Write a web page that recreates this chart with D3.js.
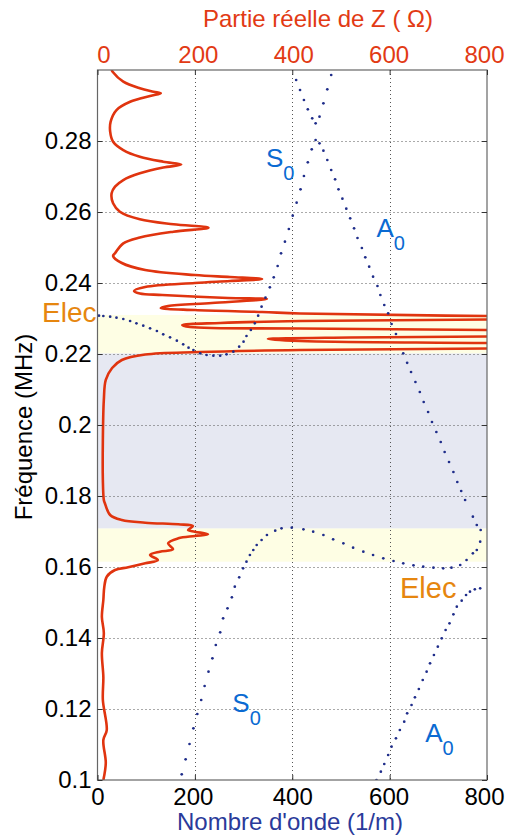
<!DOCTYPE html>
<html><head><meta charset="utf-8">
<script src="https://cdn.jsdelivr.net/npm/d3@7"></script>
<style>
body{margin:0;background:#fff}
svg{display:block}
text{font-family:"Liberation Sans",Arial,Helvetica,sans-serif}
</style>
</head><body>
<svg id="c" width="507" height="839"></svg>
<script>
// ---------- data ----------
const kTicks = [0, 200, 400, 600, 800];
const kTickLabels = ["0", "200", "400", "600", "800"];
const zTicks = [0, 200, 400, 600, 800];
const zTickLabels = ["0", "200", "400", "600", "800"];
const fTicks = [0.1, 0.12, 0.14, 0.16, 0.18, 0.2, 0.22, 0.24, 0.26, 0.28];
const fTickLabels = ["0.1", "0.12", "0.14", "0.16", "0.18", "0.2", "0.22", "0.24", "0.26", "0.28"];

const bandStart = [0.1615, 0.1709, 0.2202];
const bandEnd   = [0.1709, 0.2202, 0.2310];
const bandKind  = ["elec", "gap", "elec"];

// Real part of Z (ohm) vs frequency (MHz)
const redZ = [29,31,53,87,115,130,108,67,39,27,26,32,53,87,135,172,135,87,53,36,29,32,46,87,156,228,156,87,53,36,32,50,98,200,272,338,272,200,98,75,87,133,268,348,235,145,130,200,338,416,800,1400,800,416,252,174,190,416,800,1400,800,519,350,416,800,1400,800,416,210,98,50,30,17,13,11,11,13,15,26,50,98,166,196,186,200,227,200,166,145,155,128,108,124,98,63,36,19,14,12,9,13,9,12,11,19,12,17,12];
const redF = [0.3,0.29952,0.29670,0.29484,0.29389,0.29343,0.29268,0.29107,0.28873,0.28544,0.28262,0.27980,0.27746,0.27558,0.27417,0.27338,0.27253,0.27090,0.26901,0.26713,0.26526,0.26244,0.26009,0.25794,0.25653,0.25558,0.25445,0.25282,0.25118,0.24837,0.24761,0.24563,0.24366,0.24225,0.24169,0.24113,0.24056,0.24,0.23887,0.23775,0.23704,0.23662,0.23577,0.23549,0.23437,0.23352,0.23296,0.23239,0.23183,0.23141,0.23070,0.2302,0.22972,0.22930,0.22873,0.22817,0.22761,0.22718,0.22676,0.2258,0.22493,0.22465,0.22423,0.22366,0.2231,0.2223,0.22155,0.22113,0.22056,0.21986,0.21831,0.21606,0.21268,0.20704,0.19577,0.18451,0.17887,0.17803,0.17465,0.17324,0.17248,0.17203,0.17155,0.17042,0.16995,0.16921,0.16873,0.16808,0.16667,0.16498,0.16431,0.16338,0.16197,0.16103,0.15991,0.15915,0.15727,0.15445,0.15070,0.14592,0.14141,0.13577,0.12901,0.12254,0.11408,0.11127,0.10479,0.1];

// Dispersion dots: S0 upper branch (wavenumber 1/m, frequency MHz)
const s0UpK = [3,12,26,39,53,67,80,94,108,122,135,149,163,176,187,197,211,224,238,252,265,279,291,300,306,315,323,330,337,345,354,362,370,377,385,393,401,409,417,424,432,440,448,456,464,472,480];
const s0UpF = [0.23079,0.23070,0.23051,0.23023,0.22986,0.22930,0.22864,0.22797,0.22723,0.22648,0.22554,0.22470,0.22375,0.22273,0.22178,0.22113,0.22020,0.21972,0.21952,0.21952,0.21992,0.22065,0.22206,0.22347,0.22507,0.22676,0.22864,0.23079,0.23333,0.23586,0.23878,0.24161,0.24479,0.24836,0.25164,0.25521,0.25896,0.26262,0.26639,0.27014,0.27400,0.27766,0.28028,0.28685,0.29061,0.29456,0.29859];

// A0 upper branch -> coupling loop -> S0 lower branch
const a0s0K = [408,416,424,432,441,448,456,464,472,480,488,495,503,511,519,527,534,543,550,558,566,575,581,589,597,604,613,628,636,644,653,662,670,679,687,696,705,713,722,731,739,747,755,771,779,787,786,779,771,758,745,727,710,690,669,649,628,608,587,566,546,525,505,484,464,443,423,399,378,365,348,337,327,320,313,306,299,291,282,276,267,258,252,243,236,228,220,213,205,197,189,181,173];
const a0s0F = [0.29718,0.29437,0.29155,0.28893,0.28639,0.28498,0.27934,0.27727,0.27465,0.27183,0.26921,0.26639,0.26375,0.26093,0.25822,0.25541,0.25268,0.24986,0.24724,0.24459,0.24178,0.23915,0.23662,0.23380,0.23146,0.22845,0.22563,0.22019,0.21752,0.21493,0.21211,0.20930,0.20648,0.20366,0.20085,0.19803,0.19521,0.19239,0.18958,0.18676,0.18394,0.18141,0.17887,0.17417,0.17183,0.17042,0.16713,0.16479,0.16386,0.16197,0.16056,0.15980,0.15963,0.15980,0.16008,0.16048,0.16104,0.16169,0.16245,0.16338,0.16431,0.16544,0.16668,0.16780,0.16901,0.16994,0.17062,0.17107,0.17090,0.17023,0.16901,0.16761,0.16620,0.16479,0.16338,0.16149,0.15963,0.15710,0.15445,0.15146,0.14837,0.14555,0.14161,0.13803,0.13428,0.13051,0.12648,0.12254,0.11859,0.11456,0.11014,0.10583,0.10161];

// A0 lower branch
const a0LowK = [573,582,589,597,604,613,621,630,636,645,652,660,668,676,683,691,699,707,715,723,731,738,748,757,765,775,786];
const a0LowF = [0.1,0.10234,0.10451,0.10704,0.10938,0.11175,0.11408,0.11642,0.11879,0.12113,0.12330,0.12563,0.12817,0.13051,0.13287,0.13521,0.13755,0.13992,0.14225,0.14414,0.14668,0.14882,0.15051,0.15211,0.15304,0.15372,0.15400];

// Mode labels
const modeLabel = ["S", "A", "S", "A"];
const modeLabelK = [346, 573, 277, 673];
const modeLabelF = [0.2727, 0.2530, 0.1192, 0.1107];

// ---------- drawing ----------
const svg = d3.select("#c");
const x = d3.scaleLinear([0, 800], [97.5, 487]);   // wavenumber & Re(Z) share pixels
const y = d3.scaleLinear([0.1, 0.3], [780, 70]);
const RED = "#e0340f", REDTXT = "#e23a14", NAVY = "#1f2d8a", MODEBLUE = "#0a6ad2", ORANGE = "#e6860f";

// "Elec" label on the left (partly covered by plot)
svg.append("text").attr("x", 42).attr("y", 322).attr("font-size", 28).attr("fill", ORANGE).text("Elec");

// plot background
svg.append("rect").attr("x", x(0)).attr("y", y(0.3)).attr("width", x(800) - x(0)).attr("height", y(0.1) - y(0.3)).attr("fill", "#fff");

// bands
const bandColor = {elec: "#fefee4", gap: "#e6e8f2"};
svg.append("g").selectAll("rect").data(d3.range(bandStart.length)).join("rect")
  .attr("x", x(0)).attr("width", x(800) - x(0))
  .attr("y", i => y(bandEnd[i])).attr("height", i => y(bandStart[i]) - y(bandEnd[i]))
  .attr("fill", i => bandColor[bandKind[i]]);

// grid
const grid = svg.append("g").attr("stroke", "#555").attr("stroke-width", 1).attr("stroke-dasharray", "1,3");
grid.selectAll(".gv").data(kTicks.slice(1, -1)).join("line")
  .attr("x1", d => Math.round(x(d)) + 0.5).attr("x2", d => Math.round(x(d)) + 0.5)
  .attr("y1", y(0.3)).attr("y2", y(0.1));
grid.selectAll(".gh").data(fTicks.slice(1)).join("line")
  .attr("y1", d => Math.round(y(d)) + 0.5).attr("y2", d => Math.round(y(d)) + 0.5)
  .attr("x1", x(0)).attr("x2", x(800));

// clip
svg.append("clipPath").attr("id", "clip").append("rect")
  .attr("x", x(0)).attr("y", y(0.3)).attr("width", x(800) - x(0)).attr("height", y(0.1) - y(0.3));

// red curve
const redPts = redZ.map((z, i) => [z, redF[i]]);
svg.append("path").attr("clip-path", "url(#clip)")
  .attr("d", d3.line().x(d => x(d[0])).y(d => y(d[1])).curve(d3.curveCatmullRom.alpha(0.5))(redPts))
  .attr("fill", "none").attr("stroke", RED).attr("stroke-width", 2.6).attr("stroke-linejoin", "round");

// dispersion dots
const dotSets = [[s0UpK, s0UpF], [a0s0K, a0s0F], [a0LowK, a0LowF]];
const dots = svg.append("g").attr("clip-path", "url(#clip)");
dotSets.forEach(([ks, fs]) => {
  dots.append("g").selectAll("circle").data(ks.map((k, i) => [k, fs[i]])).join("circle")
    .attr("cx", d => x(d[0])).attr("cy", d => y(d[1])).attr("r", 1.35).attr("fill", NAVY);
});

// frame
svg.append("rect").attr("x", x(0)).attr("y", y(0.3)).attr("width", x(800) - x(0)).attr("height", y(0.1) - y(0.3))
  .attr("fill", "none").attr("stroke", "#666").attr("stroke-width", 1.2);

// axes
function styleAxis(g, color, shifts) {
  g.select(".domain").remove();
  g.selectAll(".tick line").attr("stroke", "#333");
  g.selectAll(".tick text").attr("fill", color).attr("font-size", 24)
    .attr("font-family", '"Liberation Sans",Arial,sans-serif');
  if (shifts) g.selectAll(".tick text").attr("dx", (d, i) => shifts[i]);
}
svg.append("g").attr("transform", `translate(0,${y(0.1)})`)
  .call(d3.axisBottom(x).tickValues(kTicks).tickFormat((d, i) => kTickLabels[i]).tickSize(-5).tickPadding(8))
  .call(g => styleAxis(g, "#000", [0, -2, 0, -1, -3]));
svg.append("g").attr("transform", `translate(0,${y(0.3)})`)
  .call(d3.axisTop(x).tickValues(zTicks).tickFormat((d, i) => zTickLabels[i]).tickSize(-5).tickPadding(7))
  .call(g => styleAxis(g, REDTXT, [6, 3, 1, -1, -3]));
svg.append("g").attr("transform", `translate(${x(0)},0)`)
  .call(d3.axisLeft(y).tickValues(fTicks).tickFormat((d, i) => fTickLabels[i]).tickSize(-5).tickPadding(6))
  .call(g => styleAxis(g, "#000"));
svg.append("g").attr("transform", `translate(${x(800)},0)`)
  .call(d3.axisRight(y).tickValues(fTicks).tickFormat("").tickSize(-5))
  .call(g => { g.select(".domain").remove(); g.selectAll(".tick line").attr("stroke", "#333"); });

// titles
svg.append("text").attr("x", 318).attr("y", 27).attr("text-anchor", "middle").attr("font-size", 24)
  .attr("fill", REDTXT).text("Partie réelle de Z ( Ω)");
svg.append("text").attr("x", 290).attr("y", 830).attr("text-anchor", "middle").attr("font-size", 24)
  .attr("fill", "#2a3a9a").text("Nombre d'onde (1/m)");
svg.append("text").attr("transform", "translate(32,427) rotate(-90)").attr("text-anchor", "middle")
  .attr("font-size", 24).attr("fill", "#000").text("Fréquence (MHz)");

// mode labels
modeLabel.forEach((m, i) => {
  const t = svg.append("text").attr("x", x(modeLabelK[i])).attr("y", y(modeLabelF[i]))
    .attr("fill", MODEBLUE).attr("font-size", 26);
  t.append("tspan").text(m);
  t.append("tspan").attr("font-size", 20).attr("dy", 13).text("0");
});

// Elec label lower right
svg.append("text").attr("x", 400).attr("y", 598).attr("font-size", 29).attr("fill", ORANGE).text("Elec");
</script>
</body></html>
